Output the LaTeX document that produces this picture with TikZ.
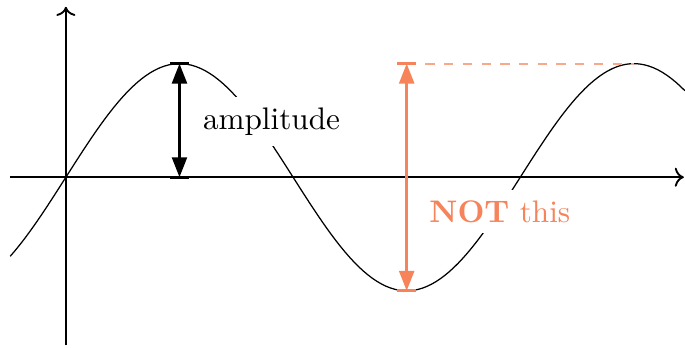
\documentclass[tikz,border=0pt]{standalone}
\usepackage{tikz}
\usetikzlibrary{arrows.meta}
\definecolor{Coral}{HTML}{F7835A}
\tikzset{axis/.style={->,semithick},wave/.style={thin,black},measure/.style={{Triangle[length=6.4pt,width=4.8pt]}-{Triangle[length=6.4pt,width=4.8pt]},thick},tickbar/.style={line width=1pt},lbl/.style={fill=white,inner sep=3.33pt}}

\begin{document}
\begin{tikzpicture}[x=1.28cm,y=1.28cm]
        \useasboundingbox (-0.58,-1.5) rectangle (5.45,1.56);
        \coordinate (xstart) at (-0.49,0);
        \coordinate (xend) at (5.44,0);
        \coordinate (ystart) at (0,-1.48);
        \coordinate (yend) at (0,1.5);
        \coordinate (peakA) at (1,1);
        \coordinate (baseA) at (1,0);
        \coordinate (topB) at (3,1);
        \coordinate (troughB) at (3,-1);
        \coordinate (peakC) at (5,1);
        \draw[wave,domain=-0.49:5.45,samples=150] plot (\x,{sin(90*\x)});
        \node[lbl] (amp) at (1.81,0.49){amplitude};
        \node[lbl,text=Coral] (notthis) at (3.82,-0.3){\textbf{NOT} this};
        \draw[axis] (xstart) -- (xend);
        \draw[axis] (ystart) -- (yend);
        \draw[measure] (peakA) -- (baseA);
        \draw[tickbar] ([xshift=-3pt]peakA) -- ([xshift=3pt]peakA);
        \draw[tickbar] ([xshift=-3pt]baseA) -- ([xshift=3pt]baseA);
        \draw[Coral!70,dashed,semithick] (topB) -- (peakC);
        \draw[measure,Coral] (topB) -- (troughB);
        \draw[tickbar,Coral] ([xshift=-3pt]topB) -- ([xshift=3pt]topB);
        \draw[tickbar,Coral] ([xshift=-3pt]troughB) -- ([xshift=3pt]troughB);
      \end{tikzpicture}
\end{document}
